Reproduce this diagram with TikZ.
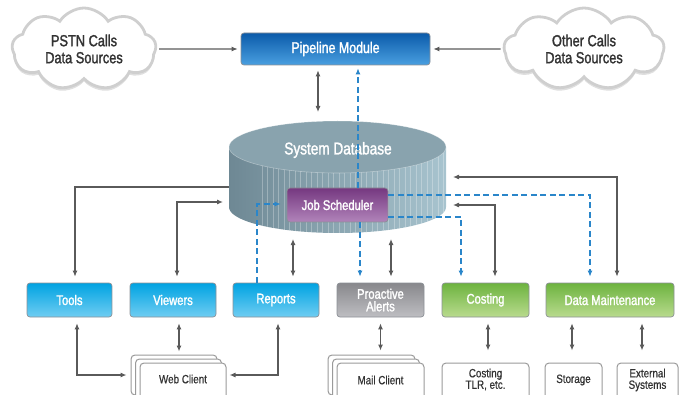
\documentclass[tikz,border=0pt]{standalone}
\usepackage{fontspec}
\setmainfont{Liberation Sans}[FakeStretch=0.82]
\newfontfamily\lblfont{Liberation Sans}[FakeStretch=0.80, FakeBold=1.6]
\newfontfamily\btxtfont{Liberation Sans}[FakeStretch=0.82, FakeBold=0.6]
\usetikzlibrary{arrows.meta,shapes.symbols,shadows,calc}

\definecolor{linegray}{HTML}{5A5A5A}
\definecolor{dashblue}{HTML}{2A86CA}
\definecolor{boxedge}{HTML}{8C9096}
\definecolor{cyanT}{HTML}{00A3E2}
\definecolor{cyanB}{HTML}{6FCDF2}
\definecolor{pipeT}{HTML}{0B5BAA}
\definecolor{pipeB}{HTML}{4A9FE0}
\definecolor{greenT}{HTML}{6DB33F}
\definecolor{greenB}{HTML}{B9DB8E}
\definecolor{grayT}{HTML}{88888C}
\definecolor{grayB}{HTML}{BEBEC2}
\definecolor{purT}{HTML}{753880}
\definecolor{purB}{HTML}{B184BA}
\definecolor{dbL}{HTML}{6E8894}
\definecolor{dbM}{HTML}{8DA8B4}
\definecolor{dbR}{HTML}{A8C4CF}
\definecolor{dbTop}{HTML}{89A3AE}
\definecolor{cloudedge}{HTML}{CFCFCF}
\definecolor{textgray}{HTML}{333333}
\definecolor{bottomedge}{HTML}{9A9A9A}

\begin{document}
\begin{tikzpicture}[x=1pt,y=-1pt,
  >={Latex[length=6pt,width=5pt]},
  arr/.style={draw=linegray, line width=1.1pt, ->},
  darr/.style={draw=linegray, line width=1.1pt, <->},
  jarr/.style={draw=dashblue, line width=1.1pt, dash pattern=on 6pt off 3.5pt, ->},
  box/.style={rectangle, rounded corners=3pt, draw=boxedge, line width=0.7pt, text=white,
    font=\lblfont\fontsize{14}{12.5}\selectfont, minimum height=34pt, inner sep=1pt, align=center},
  cyanbox/.style={box, top color=cyanT, bottom color=cyanB},
  pipebox/.style={box, top color=pipeT, bottom color=pipeB, font=\lblfont\fontsize{15.5}{15.5}\selectfont},
  greenbox/.style={box, top color=greenT, bottom color=greenB},
  graybox/.style={box, top color=grayT, bottom color=grayB},
  purbox/.style={box, top color=purT, bottom color=purB},
  bbox/.style={rectangle, rounded corners=4pt, draw=bottomedge, line width=1pt, fill=white,
    minimum height=40pt, inner sep=0pt},
  btext/.style={text=textgray, font=\btxtfont\fontsize{12}{11.5}\selectfont, align=center, inner sep=0pt},
  cloudnode/.style={cloud, cloud puffs=9, cloud puff arc=115, aspect=1.7, fill=white,
    draw=cloudedge, line width=2.8pt, text=textgray, font=\lblfont\fontsize{16}{17}\selectfont,
    align=center, inner sep=0pt, minimum height=82pt,
    drop shadow={shadow xshift=0pt, shadow yshift=-3pt, opacity=0.25, fill=black!50}}
]
\useasboundingbox (0,0) rectangle (679,395);
\clip (0,0) rectangle (679,395);

% clouds and pipeline
\node[cloudnode, minimum width=144pt] (pstn) at (84,49) {PSTN Calls\\Data Sources};
\node[cloudnode, minimum width=160pt] (other) at (584,49) {Other Calls\\Data Sources};
\node[pipebox, minimum width=189pt, minimum height=32pt] (pipe) at (335.5,49) {Pipeline Module};

% database
\shade[left color=dbL, middle color=dbM, right color=dbR]
  (229,147) -- plot[domain=180:360,samples=72] ({337.5+108.5*cos(\x)},{207-26*sin(\x)}) -- (446,147) -- cycle;
\begin{scope}
  \clip (229,147) -- plot[domain=180:360,samples=72] ({337.5+108.5*cos(\x)},{207-26*sin(\x)}) -- (446,147) -- cycle;
  \foreach \x in {262,267.5,...,444} \draw[white, opacity=0.28, line width=0.6pt] (\x,140) -- (\x,240);
\end{scope}
\fill[dbTop] (337.5,147) ellipse [x radius=108.5, y radius=26];
\draw[white, opacity=0.35, line width=0.6pt] (337.5,147) ellipse [x radius=108.5, y radius=26];
\node[text=white, font=\lblfont\fontsize{17}{17}\selectfont] (db) at (338,150) {System Database};

\coordinate (dbL1) at (229,187);
\coordinate (dbL2) at (229,202);
\coordinate (dbR1) at (446,177);
\coordinate (dbR2) at (446,205);
\coordinate (dbT) at (318,121);
\coordinate (dbB1) at (293,231);
\coordinate (dbB2) at (391,230);

% middle row
\node[purbox, minimum width=101pt] (job) at (337.5,205) {Job Scheduler};
\node[cyanbox, minimum width=85pt] (tools) at (69.5,300) {Tools};
\node[cyanbox, minimum width=86pt] (view) at (173,300) {Viewers};
\node[cyanbox, minimum width=86pt] (rep) at (276,300) {Reports};
\node[graybox, minimum width=87pt] (pro) at (380.5,300) {Proactive\\Alerts};
\node[greenbox, minimum width=87pt] (cost) at (485.5,300) {Costing};
\node[greenbox, minimum width=128pt] (dm) at (610,300) {Data Maintenance};

% bottom row
\node[bbox, minimum width=86pt] (webA) at (174,375) {};
\node[bbox, minimum width=86pt] (webB) at (178.5,379) {};
\node[bbox, minimum width=86pt, label={[btext, yshift=4pt]center:Web Client}] (web) at (183,383) {};
\node[bbox, minimum width=87pt] (mailA) at (371.5,375) {};
\node[bbox, minimum width=87pt] (mailB) at (376,379) {};
\node[bbox, minimum width=87pt, label={[btext, yshift=3pt]center:Mail Client}] (mail) at (380.5,383) {};
\node[bbox, minimum width=87pt, label={[btext, yshift=3.5pt]center:Costing\\TLR, etc.}] (tlr) at (485.5,383) {};
\node[bbox, minimum width=57pt, label={[btext, yshift=3pt]center:Storage}] (stor) at (573.5,383) {};
\node[bbox, minimum width=61pt, label={[btext, yshift=3pt]center:External\\Systems}] (ext) at (647.5,383) {};

% top connectors
\draw[arr, shorten <=2pt, shorten >=3pt] (pstn.east) -- (pipe.west);
\draw[arr, shorten <=2pt, shorten >=3pt] (other.west) -- (pipe.east);
\draw[darr, shorten <=5pt, shorten >=9pt] (pipe.south -| dbT) -- (dbT);
\coordinate (jN) at ($(job.north)+(20.5,0)$);
\draw[jarr, shorten >=3pt] (jN) -- (jN |- pipe.south);

% scheduler dashed connectors
\coordinate (jS) at ($(job.south)+(22.5,0)$);
\draw[jarr, shorten >=6pt] (jS) -- (jS |- pro.north);
\draw[jarr, shorten >=6pt] ($(job.east)+(0,12)$) -| ($(cost.north)+(-24.5,0)$);
\draw[jarr, shorten >=6pt] ($(job.east)+(0,-10)$) -| ($(dm.north)+(-20,0)$);
\draw[jarr, shorten >=6pt] ($(rep.north)+(-19,0)$) |- ($(job.west)+(0,-1)$);

% database connectors
\draw[arr, shorten >=6pt] (dbL1) -| ($(tools.north)+(5.5,0)$);
\draw[darr, shorten <=6pt, shorten >=6pt] ($(view.north)+(4,0)$) |- (dbL2);
\draw[darr, shorten <=6pt, shorten >=8pt] (dbB1 |- rep.north) -- (dbB1);
\draw[darr, shorten <=6pt, shorten >=9pt] (dbB2 |- pro.north) -- (dbB2);
\draw[darr, shorten <=6pt, shorten >=7pt] ($(cost.north)+(9.5,0)$) |- (dbR2);
\draw[darr, shorten <=6pt, shorten >=7pt] ($(dm.north)+(7,0)$) |- (dbR1);

% bottom connectors
\draw[darr, shorten <=6pt, shorten >=4pt] ($(tools.south)+(7.5,0)$) |- (webA.west);
\coordinate (vS) at ($(view.south)+(6,0)$);
\draw[darr, shorten <=6pt, shorten >=3pt] (vS) -- (vS |- webA.north);
\coordinate (rS) at ($(rep.south)+(2,0)$);
\draw[darr, shorten <=6pt, shorten >=3pt] (rS) |- (web.east |- webA.west);
\draw[darr, shorten <=6pt, shorten >=4pt] (pro.south) -- (pro.south |- mailA.north);
\coordinate (cS) at ($(cost.south)+(2.5,0)$);
\draw[darr, shorten <=6pt, shorten >=12pt] (cS) -- (cS |- tlr.north);
\coordinate (sN) at ($(stor.north)+(-1.5,0)$);
\draw[darr, shorten <=6pt, shorten >=12pt] (sN |- dm.south) -- (sN);
\coordinate (eN) at ($(ext.north)+(-5.5,0)$);
\draw[darr, shorten <=6pt, shorten >=12pt] (eN |- dm.south) -- (eN);
\end{tikzpicture}
\end{document}
